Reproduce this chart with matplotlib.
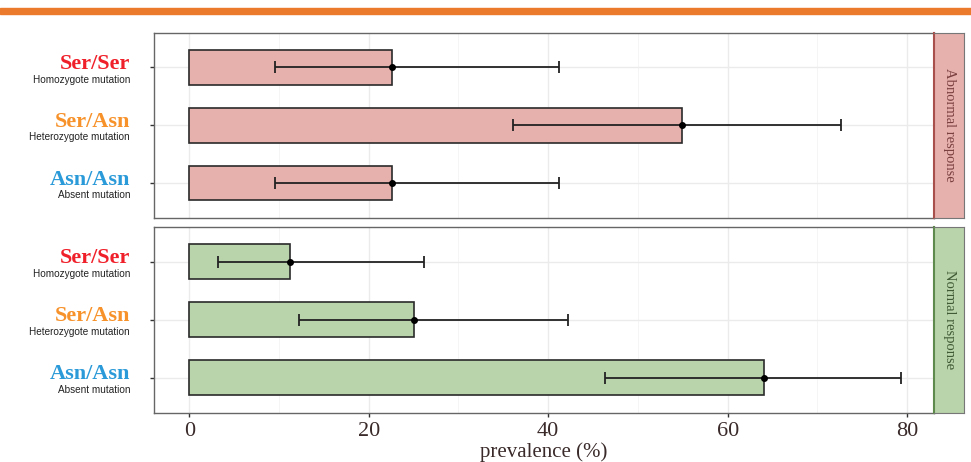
import matplotlib.pyplot as plt
from matplotlib.patches import Rectangle

# genotype labels (top to bottom inside each panel)
genotypes = ['Ser/Ser', 'Ser/Asn', 'Asn/Asn']
subtitles = ['Homozygote mutation', 'Heterozygote mutation', 'Absent mutation']
label_colors = ['#F0202A', '#F7922B', '#2B9AD8']

panels = ['Abnormal response', 'Normal response']

# prevalence (%) and confidence interval
abnormal_prev = [22.6, 54.9, 22.6]
abnormal_low = [9.6, 36.1, 9.6]
abnormal_high = [41.2, 72.6, 41.2]

normal_prev = [11.2, 25.1, 64.0]
normal_low = [3.2, 12.2, 46.3]
normal_high = [26.2, 42.2, 79.3]

xticks = [0, 20, 40, 60, 80]

bar_cols = ['#E6B0AC', '#B9D3AA']
strip_edges = ['#A8504C', '#5E8A4E']
strip_text = ['#7A4040', '#3F5A35']

W, H = 971, 462
fig = plt.figure(figsize=(W / 100, H / 100), dpi=100)

# orange band at the very top
fig.patches.append(Rectangle((0, 1 - 14 / H), 1, 6 / H, transform=fig.transFigure,
                             color='#EC7A2C', zorder=0))

left, right = 154, 934
boxes = [(32.7, 217.7), (227.0, 412.7)]
data = [(abnormal_prev, abnormal_low, abnormal_high),
        (normal_prev, normal_low, normal_high)]

y = [1, 2, 3]
for k in range(2):
    top, bot = boxes[k]
    ax = fig.add_axes([left / W, 1 - bot / H, (right - left) / W, (bot - top) / H])
    prev, low, high = data[k]

    ax.barh(y, prev, height=0.6, color=bar_cols[k], edgecolor='#2a2a2a', linewidth=1.2, zorder=2)
    err = [[p - l for p, l in zip(prev, low)], [h - p for p, h in zip(prev, high)]]
    ax.errorbar(prev, y, xerr=err, fmt='o', color='black', ms=4, elinewidth=1.3,
                capsize=4, capthick=1.3, ecolor='#222222', zorder=3)

    ax.set_xlim(-3.93, 83.0)
    ax.set_ylim(3.6, 0.4)
    ax.set_xticks(xticks)
    ax.set_xticks([10, 30, 50, 70], minor=True)
    ax.set_yticks(y)
    ax.set_yticklabels([])
    ax.grid(True, which='major', color='#EBEBEB', linewidth=1.0, zorder=0)
    ax.grid(True, which='minor', axis='x', color='#F4F4F4', linewidth=0.6, zorder=0)
    ax.set_axisbelow(True)
    for s in ax.spines.values():
        s.set_color('#666666')
        s.set_linewidth(1.0)
    ax.tick_params(axis='y', length=3, color='#333333', width=1.0)
    ax.tick_params(axis='x', which='minor', length=0)

    if k == 0:
        ax.tick_params(axis='x', length=0, labelbottom=False)
    else:
        ax.tick_params(axis='x', length=3, color='#333333', width=1.0)
        ax.set_xticklabels([str(t) for t in xticks], fontsize=16,
                           family='Liberation Serif', color='#3a2a2a')
        ax.set_xlabel('prevalence (%)', fontsize=15, family='Liberation Serif',
                      color='#3a2a2a', labelpad=1)

    # genotype labels on the left
    tx = (130 - left) / (right - left)
    for i in range(3):
        ax.text(tx, y[i] - 0.06, genotypes[i], transform=ax.get_yaxis_transform(),
                ha='right', va='center', fontsize=16, fontweight='bold',
                family='Liberation Serif', color=label_colors[i])
        ax.text(tx, y[i] + 0.21, subtitles[i], transform=ax.get_yaxis_transform(),
                ha='right', va='center', fontsize=7.2, family='Liberation Sans',
                color='#222222')

    # facet strip on the right
    sx = fig.add_axes([right / W, 1 - bot / H, 30 / W, (bot - top) / H])
    sx.set_facecolor(bar_cols[k])
    sx.set_xticks([])
    sx.set_yticks([])
    for s in sx.spines.values():
        s.set_color('#777777')
    sx.spines['left'].set_color(strip_edges[k])
    sx.spines['left'].set_linewidth(1.5)
    sx.text(0.5, 0.5, panels[k], rotation=-90, ha='center', va='center',
            fontsize=10.5, family='Liberation Serif', color=strip_text[k],
            transform=sx.transAxes)

fig.savefig('out.png', dpi=100)
